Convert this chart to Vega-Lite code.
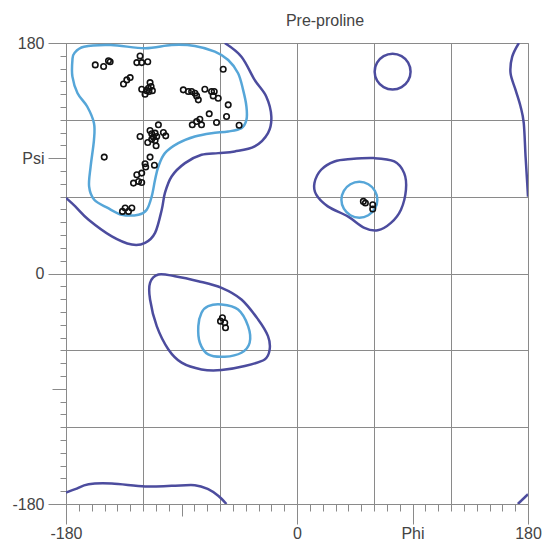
{
  "$schema": "https://vega.github.io/schema/vega-lite/v6.json",
  "autosize": {"type": "none"},
  "padding": {"left": 66, "top": 43, "right": 16, "bottom": 41},
  "width": 462,
  "height": 461,
  "config": {
    "font": "Liberation Sans",
    "view": {"stroke": "#9a9a9a", "strokeWidth": 1},
    "axis": {"labelFont": "Liberation Sans", "labelFontSize": 16, "labelColor": "#444444", "tickColor": "#8a8a8a", "domainColor": "#8a8a8a", "labelFlush": false, "labelOverlap": false, "title": null}
  },
  "title": {"text": "Pre-proline", "fontSize": 16, "fontWeight": "normal", "color": "#444444", "font": "Liberation Sans", "anchor": "middle", "dx": 28, "offset": 6},
  "datasets": {
    "pts": [
      {"phi":-157.2,"psi":162.9},{"phi":-150.7,"psi":161.6},{"phi":-146.9,"psi":166.2},{"phi":-145.6,"psi":165.4},
      {"phi":-122.3,"psi":169.9},{"phi":-124.8,"psi":164.7},{"phi":-121.0,"psi":164.7},{"phi":-116.3,"psi":165.4},
      {"phi":-57.5,"psi":159.5},{"phi":-135.2,"psi":148.0},{"phi":-132.6,"psi":151.2},{"phi":-130.0,"psi":153.0},
      {"phi":-114.5,"psi":149.1},{"phi":-113.7,"psi":146.0},{"phi":-121.0,"psi":143.9},{"phi":-117.1,"psi":142.8},
      {"phi":-115.3,"psi":142.1},{"phi":-118.4,"psi":140.0},{"phi":-112.7,"psi":142.8},{"phi":-115.8,"psi":144.7},
      {"phi":-88.6,"psi":143.4},{"phi":-84.7,"psi":142.1},{"phi":-82.1,"psi":142.1},{"phi":-79.5,"psi":140.8},
      {"phi":-78.2,"psi":138.7},{"phi":-76.9,"psi":135.6},{"phi":-71.8,"psi":143.9},{"phi":-66.6,"psi":142.1},
      {"phi":-64.5,"psi":142.1},{"phi":-65.3,"psi":138.7},{"phi":-61.4,"psi":136.9},{"phi":-53.6,"psi":131.7},
      {"phi":-54.9,"psi":122.6},{"phi":-68.4,"psi":124.7},{"phi":-62.7,"psi":117.9},{"phi":-75.7,"psi":120.5},
      {"phi":-78.2,"psi":118.7},{"phi":-81.6,"psi":116.1},{"phi":-74.4,"psi":116.1},{"phi":-45.1,"psi":115.8},
      {"phi":-108.0,"psi":116.1},{"phi":-114.5,"psi":111.7},{"phi":-113.2,"psi":109.1},{"phi":-110.6,"psi":109.6},
      {"phi":-111.9,"psi":106.5},{"phi":-109.3,"psi":107.0},{"phi":-104.1,"psi":110.1},{"phi":-102.3,"psi":107.5},
      {"phi":-122.3,"psi":107.0},{"phi":-116.3,"psi":102.3},{"phi":-110.6,"psi":103.9},{"phi":-109.8,"psi":99.7},
      {"phi":-113.2,"psi":104.9},{"phi":-150.2,"psi":90.9},{"phi":-114.5,"psi":90.9},{"phi":-118.4,"psi":85.7},
      {"phi":-117.9,"psi":83.1},{"phi":-111.1,"psi":84.6},{"phi":-121.0,"psi":78.4},{"phi":-124.8,"psi":77.1},
      {"phi":-123.5,"psi":71.9},{"phi":-127.4,"psi":70.6},{"phi":-121.0,"psi":71.1},{"phi":-133.9,"psi":51.1},
      {"phi":-136.0,"psi":48.5},{"phi":-128.7,"psi":51.1},{"phi":-131.3,"psi":48.5},
      {"phi":-58.1,"psi":-34.6},{"phi":-59.6,"psi":-37.2},{"phi":-56.3,"psi":-38.5},{"phi":-55.7,"psi":-42.4},
      {"phi":51.7,"psi":56.3},{"phi":53.3,"psi":55.0},{"phi":59.0,"psi":53.7},{"phi":59.0,"psi":50.4}
    ],
    "closed": [
      {"c":"TLi","l":"inner","o":1,"phi":-173.5,"psi":172.0},{"c":"TLi","l":"inner","o":2,"phi":-166.0,"psi":177.1},
      {"c":"TLi","l":"inner","o":3,"phi":-145.0,"psi":178.4},{"c":"TLi","l":"inner","o":4,"phi":-118.4,"psi":175.9},
      {"c":"TLi","l":"inner","o":5,"phi":-97.7,"psi":178.4},{"c":"TLi","l":"inner","o":6,"phi":-79.6,"psi":177.7},
      {"c":"TLi","l":"inner","o":7,"phi":-64.0,"psi":173.2},{"c":"TLi","l":"inner","o":8,"phi":-53.6,"psi":166.7},
      {"c":"TLi","l":"inner","o":9,"phi":-45.9,"psi":156.4},{"c":"TLi","l":"inner","o":10,"phi":-42.0,"psi":143.4},
      {"c":"TLi","l":"inner","o":11,"phi":-39.4,"psi":130.4},{"c":"TLi","l":"inner","o":12,"phi":-39.4,"psi":120.0},
      {"c":"TLi","l":"inner","o":13,"phi":-43.3,"psi":113.5},{"c":"TLi","l":"inner","o":14,"phi":-53.6,"psi":110.9},
      {"c":"TLi","l":"inner","o":15,"phi":-66.6,"psi":109.6},{"c":"TLi","l":"inner","o":16,"phi":-79.6,"psi":107.0},
      {"c":"TLi","l":"inner","o":17,"phi":-92.5,"psi":101.8},{"c":"TLi","l":"inner","o":18,"phi":-102.9,"psi":94.0},
      {"c":"TLi","l":"inner","o":19,"phi":-108.0,"psi":83.6},{"c":"TLi","l":"inner","o":20,"phi":-110.6,"psi":73.2},
      {"c":"TLi","l":"inner","o":21,"phi":-113.2,"psi":60.2},{"c":"TLi","l":"inner","o":22,"phi":-117.1,"psi":49.8},
      {"c":"TLi","l":"inner","o":23,"phi":-123.5,"psi":45.9},{"c":"TLi","l":"inner","o":24,"phi":-136.5,"psi":45.9},
      {"c":"TLi","l":"inner","o":25,"phi":-147.5,"psi":51.2},{"c":"TLi","l":"inner","o":26,"phi":-158.0,"psi":57.6},
      {"c":"TLi","l":"inner","o":27,"phi":-162.0,"psi":68.0},{"c":"TLi","l":"inner","o":28,"phi":-160.8,"psi":83.6},
      {"c":"TLi","l":"inner","o":29,"phi":-158.2,"psi":104.4},{"c":"TLi","l":"inner","o":30,"phi":-158.2,"psi":117.4},
      {"c":"TLi","l":"inner","o":31,"phi":-163.5,"psi":130.4},{"c":"TLi","l":"inner","o":32,"phi":-171.0,"psi":140.8},
      {"c":"TLi","l":"inner","o":33,"phi":-175.0,"psi":153.7},{"c":"TLi","l":"inner","o":34,"phi":-175.0,"psi":166.7},

      {"c":"E","l":"outer","o":1,"phi":88.5,"psi":157.6},{"c":"E","l":"outer","o":2,"phi":86.6,"psi":164.6},
      {"c":"E","l":"outer","o":3,"phi":81.5,"psi":169.7},{"c":"E","l":"outer","o":4,"phi":74.5,"psi":171.6},
      {"c":"E","l":"outer","o":5,"phi":67.5,"psi":169.7},{"c":"E","l":"outer","o":6,"phi":62.4,"psi":164.6},
      {"c":"E","l":"outer","o":7,"phi":60.5,"psi":157.6},{"c":"E","l":"outer","o":8,"phi":62.4,"psi":150.6},
      {"c":"E","l":"outer","o":9,"phi":67.5,"psi":145.5},{"c":"E","l":"outer","o":10,"phi":74.5,"psi":143.6},
      {"c":"E","l":"outer","o":11,"phi":81.5,"psi":145.5},{"c":"E","l":"outer","o":12,"phi":86.6,"psi":150.6},

      {"c":"F","l":"outer","o":1,"phi":29.2,"psi":87.5},{"c":"F","l":"outer","o":2,"phi":42.1,"psi":89.4},
      {"c":"F","l":"outer","o":3,"phi":60.2,"psi":90.1},{"c":"F","l":"outer","o":4,"phi":75.8,"psi":87.5},
      {"c":"F","l":"outer","o":5,"phi":83.5,"psi":78.4},{"c":"F","l":"outer","o":6,"phi":84.9,"psi":65.4},
      {"c":"F","l":"outer","o":7,"phi":81.0,"psi":49.8},{"c":"F","l":"outer","o":8,"phi":73.2,"psi":39.5},
      {"c":"F","l":"outer","o":9,"phi":62.9,"psi":33.7},{"c":"F","l":"outer","o":10,"phi":52.5,"psi":35.6},
      {"c":"F","l":"outer","o":11,"phi":39.6,"psi":44.6},{"c":"F","l":"outer","o":12,"phi":24.0,"psi":52.4},
      {"c":"F","l":"outer","o":13,"phi":15.0,"psi":61.5},{"c":"F","l":"outer","o":14,"phi":13.6,"psi":70.6},
      {"c":"F","l":"outer","o":15,"phi":18.8,"psi":81.0},

      {"c":"G","l":"inner","o":1,"phi":62.6,"psi":57.6},{"c":"G","l":"inner","o":2,"phi":60.7,"psi":64.6},
      {"c":"G","l":"inner","o":3,"phi":55.6,"psi":69.7},{"c":"G","l":"inner","o":4,"phi":48.6,"psi":71.6},
      {"c":"G","l":"inner","o":5,"phi":41.6,"psi":69.7},{"c":"G","l":"inner","o":6,"phi":36.5,"psi":64.6},
      {"c":"G","l":"inner","o":7,"phi":34.6,"psi":57.6},{"c":"G","l":"inner","o":8,"phi":36.5,"psi":50.6},
      {"c":"G","l":"inner","o":9,"phi":41.6,"psi":45.5},{"c":"G","l":"inner","o":10,"phi":48.6,"psi":43.6},
      {"c":"G","l":"inner","o":11,"phi":55.6,"psi":45.5},{"c":"G","l":"inner","o":12,"phi":60.7,"psi":50.6},

      {"c":"H","l":"outer","o":1,"phi":-108.0,"psi":-0.8},{"c":"H","l":"outer","o":2,"phi":-95.1,"psi":-2.1},
      {"c":"H","l":"outer","o":3,"phi":-76.9,"psi":-6.0},{"c":"H","l":"outer","o":4,"phi":-58.8,"psi":-11.2},
      {"c":"H","l":"outer","o":5,"phi":-43.3,"psi":-20.3},{"c":"H","l":"outer","o":6,"phi":-30.3,"psi":-35.9},
      {"c":"H","l":"outer","o":7,"phi":-22.6,"psi":-48.9},{"c":"H","l":"outer","o":8,"phi":-21.3,"psi":-59.3},
      {"c":"H","l":"outer","o":9,"phi":-25.2,"psi":-67.1},{"c":"H","l":"outer","o":10,"phi":-40.7,"psi":-72.3},
      {"c":"H","l":"outer","o":11,"phi":-58.8,"psi":-75.4},{"c":"H","l":"outer","o":12,"phi":-74.4,"psi":-74.9},
      {"c":"H","l":"outer","o":13,"phi":-89.9,"psi":-69.6},{"c":"H","l":"outer","o":14,"phi":-100.2,"psi":-59.3},
      {"c":"H","l":"outer","o":15,"phi":-109.3,"psi":-41.1},{"c":"H","l":"outer","o":16,"phi":-114.5,"psi":-20.3},
      {"c":"H","l":"outer","o":17,"phi":-114.5,"psi":-7.3},

      {"c":"I","l":"inner","o":1,"phi":-69.2,"psi":-25.5},{"c":"I","l":"inner","o":2,"phi":-58.8,"psi":-24.2},
      {"c":"I","l":"inner","o":3,"phi":-45.9,"psi":-28.1},{"c":"I","l":"inner","o":4,"phi":-38.1,"psi":-41.1},
      {"c":"I","l":"inner","o":5,"phi":-36.9,"psi":-54.1},{"c":"I","l":"inner","o":6,"phi":-43.3,"psi":-61.9},
      {"c":"I","l":"inner","o":7,"phi":-56.3,"psi":-65.0},{"c":"I","l":"inner","o":8,"phi":-69.2,"psi":-63.2},
      {"c":"I","l":"inner","o":9,"phi":-75.7,"psi":-54.1},{"c":"I","l":"inner","o":10,"phi":-76.9,"psi":-41.1},
      {"c":"I","l":"inner","o":11,"phi":-74.4,"psi":-30.7}
    ],
    "open": [
      {"c":"A","l":"outer","o":1,"phi":172.9,"psi":180.0},{"c":"A","l":"outer","o":2,"phi":167.7,"psi":169.3},
      {"c":"A","l":"outer","o":3,"phi":166.4,"psi":156.4},{"c":"A","l":"outer","o":4,"phi":170.3,"psi":143.4},
      {"c":"A","l":"outer","o":5,"phi":174.2,"psi":130.4},{"c":"A","l":"outer","o":6,"phi":176.7,"psi":117.4},
      {"c":"A","l":"outer","o":7,"phi":178.1,"psi":91.4},{"c":"A","l":"outer","o":8,"phi":179.4,"psi":70.6},
      {"c":"A","l":"outer","o":9,"phi":180.0,"psi":60.0},

      {"c":"B","l":"outer","o":1,"phi":-56.3,"psi":180.0},{"c":"B","l":"outer","o":2,"phi":-43.3,"psi":169.3},
      {"c":"B","l":"outer","o":3,"phi":-33.0,"psi":151.2},{"c":"B","l":"outer","o":4,"phi":-23.9,"psi":138.1},
      {"c":"B","l":"outer","o":5,"phi":-20.0,"psi":122.6},{"c":"B","l":"outer","o":6,"phi":-22.6,"psi":109.6},
      {"c":"B","l":"outer","o":7,"phi":-33.0,"psi":99.2},{"c":"B","l":"outer","o":8,"phi":-48.5,"psi":95.3},
      {"c":"B","l":"outer","o":9,"phi":-61.4,"psi":94.0},{"c":"B","l":"outer","o":10,"phi":-74.4,"psi":92.7},
      {"c":"B","l":"outer","o":11,"phi":-87.3,"psi":86.2},{"c":"B","l":"outer","o":12,"phi":-97.7,"psi":75.8},
      {"c":"B","l":"outer","o":13,"phi":-102.9,"psi":62.9},{"c":"B","l":"outer","o":14,"phi":-105.4,"psi":49.8},
      {"c":"B","l":"outer","o":15,"phi":-110.6,"psi":31.7},{"c":"B","l":"outer","o":16,"phi":-118.4,"psi":23.9},
      {"c":"B","l":"outer","o":17,"phi":-128.7,"psi":22.6},{"c":"B","l":"outer","o":18,"phi":-144.3,"psi":29.0},
      {"c":"B","l":"outer","o":19,"phi":-162.4,"psi":42.0},{"c":"B","l":"outer","o":20,"phi":-172.8,"psi":52.4},
      {"c":"B","l":"outer","o":21,"phi":-180.0,"psi":59.0},

      {"c":"C","l":"outer","o":1,"phi":-180.0,"psi":-171.0},{"c":"C","l":"outer","o":2,"phi":-172.8,"psi":-168.4},
      {"c":"C","l":"outer","o":3,"phi":-162.4,"psi":-164.5},{"c":"C","l":"outer","o":4,"phi":-144.3,"psi":-164.0},
      {"c":"C","l":"outer","o":5,"phi":-118.4,"psi":-166.3},{"c":"C","l":"outer","o":6,"phi":-97.7,"psi":-165.8},
      {"c":"C","l":"outer","o":7,"phi":-79.6,"psi":-165.3},{"c":"C","l":"outer","o":8,"phi":-69.2,"psi":-168.4},
      {"c":"C","l":"outer","o":9,"phi":-61.4,"psi":-173.6},{"c":"C","l":"outer","o":10,"phi":-55.0,"psi":-180.0},

      {"c":"D","l":"outer","o":1,"phi":172.1,"psi":-180.0},{"c":"D","l":"outer","o":2,"phi":180.0,"psi":-172.3}
    ]
  },
  "layer": [
    {
      "data": {"name": "closed"},
      "mark": {"type": "line", "interpolate": "cardinal-closed", "strokeWidth": 2.5, "clip": true},
      "encoding": {
        "x": {"field": "phi", "type": "quantitative", "scale": {"domain": [-180, 180], "nice": false, "zero": false},
              "axis": {"orient": "bottom", "values": [-180, -120, -60, 0, 60, 120, 180], "grid": true, "gridColor": "#8a8a8a", "gridOpacity": 1, "ticks": false, "labels": false, "domain": false}},
        "y": {"field": "psi", "type": "quantitative", "scale": {"domain": [-180, 180], "nice": false, "zero": false},
              "axis": {"orient": "left", "values": [-180, -120, -60, 0, 60, 120, 180], "grid": true, "gridColor": "#8a8a8a", "gridOpacity": 1, "ticks": false, "labels": false, "domain": false}},
        "detail": {"field": "c"},
        "order": {"field": "o", "type": "quantitative"},
        "color": {"field": "l", "type": "nominal", "scale": {"domain": ["outer", "inner"], "range": ["#4c4c9e", "#56a6d8"]}, "legend": null}
      }
    },
    {
      "data": {"name": "open"},
      "mark": {"type": "line", "interpolate": "cardinal", "strokeWidth": 2.5, "clip": true},
      "encoding": {
        "x": {"field": "phi", "type": "quantitative", "scale": {"domain": [-180, 180], "nice": false, "zero": false},
              "axis": {"orient": "bottom", "values": [-180, 0, 90, 180], "labelExpr": "datum.value == 90 ? 'Phi' : '' + datum.value", "tickSize": 20, "labelPadding": 1, "grid": false, "domain": true}},
        "y": {"field": "psi", "type": "quantitative", "scale": {"domain": [-180, 180], "nice": false, "zero": false},
              "axis": {"orient": "left", "values": [-180, 0, 90, 180], "labelExpr": "datum.value == 90 ? 'Psi' : '' + datum.value", "tickSize": 18, "labelPadding": 4, "grid": false, "domain": true}},
        "detail": {"field": "c"},
        "order": {"field": "o", "type": "quantitative"},
        "color": {"field": "l", "type": "nominal", "scale": {"domain": ["outer", "inner"], "range": ["#4c4c9e", "#56a6d8"]}, "legend": null}
      }
    },
    {
      "data": {"name": "pts"},
      "mark": {"type": "point", "shape": "circle", "filled": false, "size": 30, "stroke": "#111111", "strokeWidth": 1.6, "opacity": 1},
      "encoding": {
        "x": {"field": "phi", "type": "quantitative", "scale": {"domain": [-180, 180], "nice": false, "zero": false},
              "axis": {"orient": "bottom", "values": [-180,-170,-160,-150,-140,-130,-120,-110,-100,-90,-80,-70,-60,-50,-40,-30,-20,-10,0,10,20,30,40,50,60,70,80,90,100,110,120,130,140,150,160,170,180], "tickSize": 7, "labels": false, "grid": false, "domain": false}},
        "y": {"field": "psi", "type": "quantitative", "scale": {"domain": [-180, 180], "nice": false, "zero": false},
              "axis": {"orient": "left", "values": [-180,-170,-160,-150,-140,-130,-120,-110,-100,-90,-80,-70,-60,-50,-40,-30,-20,-10,0,10,20,30,40,50,60,70,80,90,100,110,120,130,140,150,160,170,180], "tickSize": 6, "labels": false, "grid": false, "domain": false}}
      }
    },
    {
      "data": {"name": "pts"},
      "mark": {"type": "point", "opacity": 0},
      "encoding": {
        "x": {"field": "phi", "type": "quantitative", "scale": {"domain": [-180, 180], "nice": false, "zero": false},
              "axis": {"orient": "bottom", "values": [-90], "tickSize": 12, "labels": false, "grid": false, "domain": false}},
        "y": {"field": "psi", "type": "quantitative", "scale": {"domain": [-180, 180], "nice": false, "zero": false},
              "axis": {"orient": "left", "values": [-90], "tickSize": 14, "labels": false, "grid": false, "domain": false}}
      }
    }
  ],
  "resolve": {"axis": {"x": "independent", "y": "independent"}}
}
